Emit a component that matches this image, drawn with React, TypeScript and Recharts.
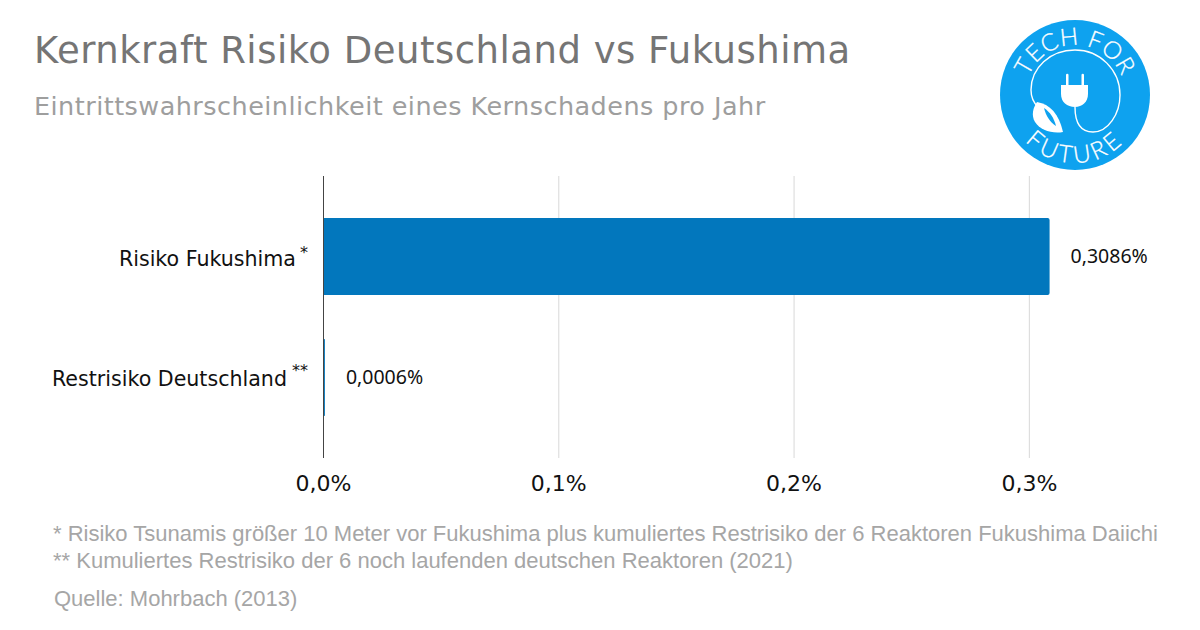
import React from "react";
import { Bar, BarChart, CartesianGrid, LabelList, XAxis, YAxis } from "recharts";

const categories = ["Risiko Fukushima", "Restrisiko Deutschland"];
const footnoteMarks = ["*", "**"];
const values = [0.3086, 0.0006];
const xTicks = [0, 0.1, 0.2, 0.3];
const footnotes = [
  "* Risiko Tsunamis größer 10 Meter vor Fukushima plus kumuliertes Restrisiko der 6 Reaktoren Fukushima Daiichi",
  "** Kumuliertes Restrisiko der 6 noch laufenden deutschen Reaktoren (2021)",
];

const data = categories.map((name, i) => ({ name, value: values[i] }));

const percent = (v: number, digits: number) => v.toFixed(digits).replace(".", ",") + "%";

function CategoryTick({ x, y, payload, index }: any) {
  const mark = footnoteMarks[index];
  return (
    <g>
      <text x={x - 10.5 - 9 * mark.length} y={y + 9 - index} textAnchor="end" fontFamily="DejaVu Sans" fontSize={20.6} fill="#111">
        {payload.value}
      </text>
      <text x={x - 7.5} y={y + 1 - 3 * index} textAnchor="end" fontFamily="DejaVu Sans" fontSize={16} fill="#111">
        {mark}
      </text>
    </g>
  );
}

function Logo() {
  return (
    <svg width={1200} height={630} style={{ position: "absolute", left: 0, top: 0 }}>
      <defs>
        <path id="logoTop" d="M 1025 95 A 50 50 0 1 1 1125 95" />
        <path id="logoBottom" d="M 1007 95 A 68 68 0 0 0 1143 95" />
      </defs>
      <circle cx={1075} cy={95} r={75} fill="#0ea2ef" />
      <text fontFamily="Lato" fontWeight={300} fontSize={24} fill="#fff" letterSpacing={0.5} stroke="#fff" strokeWidth={0.3}>
        <textPath href="#logoTop" startOffset="50%" textAnchor="middle">TECH FOR</textPath>
      </text>
      <text fontFamily="Lato" fontWeight={300} fontSize={24} fill="#fff" letterSpacing={3.5} stroke="#fff" strokeWidth={0.3}>
        <textPath href="#logoBottom" startOffset="50%" textAnchor="middle">FUTURE</textPath>
      </text>
      <path
        d="M 1075 107 C 1075 122 1080 132 1093 132 C 1108 132 1120 114 1120 95 C 1120 70 1100 50 1075 50 C 1050 50 1031 68 1031 90 C 1031 97 1033 102 1038 107"
        fill="none"
        stroke="#fff"
        strokeWidth={1.4}
      />
      <path d="M 1066 85 V 75 a 1.2 1.2 0 0 1 2.5 0 V 85 Z M 1081.5 85 V 75 a 1.2 1.2 0 0 1 2.5 0 V 85 Z" fill="#fff" />
      <path d="M 1061 85 H 1088 V 94 C 1088 102 1082 107 1075 107 C 1067 107 1061 102 1061 94 Z" fill="#fff" />
      <path d="M 1037 102 C 1050 104 1059 114 1063 132 C 1052 134 1040 130 1035 122 C 1031 115 1033 108 1037 102 Z" fill="#fff" />
      <path d="M 1044 108 C 1050 112 1054 118 1056 126 C 1050 122 1046 116 1044 108 Z" fill="#0ea2ef" />
    </svg>
  );
}

export default function App() {
  return (
    <div style={{ position: "absolute", left: 0, top: 0, width: 1200, height: 630, background: "#fff", overflow: "hidden" }}>
      <div style={{ position: "absolute", left: 34, top: 29, fontFamily: "DejaVu Sans", fontSize: 37, letterSpacing: 0.5, color: "#757575", whiteSpace: "nowrap" }}>
        Kernkraft Risiko Deutschland vs Fukushima
      </div>
      <div style={{ position: "absolute", left: 34, top: 91, fontFamily: "DejaVu Sans", fontSize: 25.5, letterSpacing: 0.46, color: "#9e9e9e", whiteSpace: "nowrap" }}>
        Eintrittswahrscheinlichkeit eines Kernschadens pro Jahr
      </div>

      <div style={{ position: "absolute", left: 0, top: 0 }}>
        <BarChart
          width={1200}
          height={630}
          data={data}
          layout="vertical"
          margin={{ top: 176, right: 53, left: 0, bottom: 132 }}
        >
          <CartesianGrid horizontal={false} stroke="#d9d9d9" verticalValues={xTicks} />
          <XAxis
            type="number"
            domain={[0, 0.35]}
            ticks={xTicks}
            tickFormatter={(v: number) => percent(v, 1)}
            height={40}
            tickLine={false}
            axisLine={false}
            tick={{ fontFamily: "DejaVu Sans", fontSize: 22, fill: "#111" }}
            tickMargin={11}
          />
          <YAxis
            type="category"
            dataKey="name"
            width={323.5}
            padding={{ top: 20, bottom: 20 }}
            tickLine={false}
            axisLine={{ stroke: "#444" }}
            tick={<CategoryTick />}
          />
          <Bar dataKey="value" fill="#0277bd" barSize={77} radius={[0, 2, 2, 0]} isAnimationActive={false}>
            <LabelList
              dataKey="value"
              position="right"
              offset={21}
              formatter={(v: number) => percent(v, 4)}
              style={{ fontFamily: "Noto Sans", fontSize: 19.5, fill: "#111" }}
            />
          </Bar>
        </BarChart>
      </div>

      <Logo />

      <div style={{ position: "absolute", left: 53, top: 520, fontFamily: "Liberation Sans", fontSize: 22, lineHeight: "27px", color: "#a6a6a6", whiteSpace: "nowrap" }}>
        {footnotes.map((f) => (
          <div key={f}>{f}</div>
        ))}
      </div>
      <div style={{ position: "absolute", left: 54, top: 586, fontFamily: "Liberation Sans", fontSize: 22, color: "#a6a6a6", whiteSpace: "nowrap" }}>
        Quelle: Mohrbach (2013)
      </div>
    </div>
  );
}
